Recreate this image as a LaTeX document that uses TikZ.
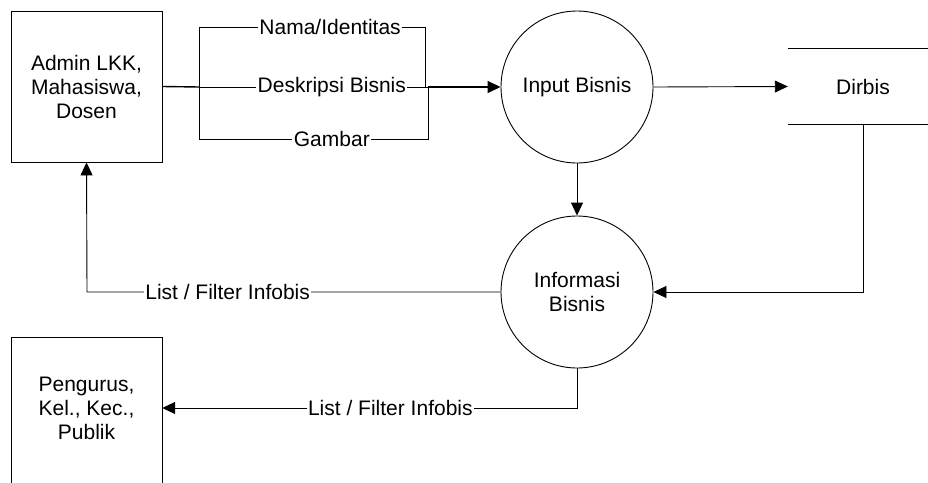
\documentclass[tikz,border=0pt]{standalone}
\usepackage{fontspec}
\setmainfont{Liberation Sans}
\usetikzlibrary{arrows.meta}
\tikzset{
  every node/.style={font=\fontsize{21}{24}\selectfont, align=center},
  flow/.style={draw=black, line width=0.9pt},
  arr/.style={flow, -{Triangle[length=13pt,width=12pt]}},
  lbl/.style={fill=white, inner sep=1.5pt},
  entity/.style={draw=black, line width=0.9pt, minimum width=151pt, minimum height=151pt, inner sep=0pt},
  proc/.style={circle, draw=black, line width=0.9pt, minimum size=152pt, inner sep=0pt},
}
\begin{document}
\begin{tikzpicture}[x=1pt,y=-1pt]
\useasboundingbox (0,0) rectangle (928,482);
% nodes
\node[entity] (admin) at (86.5,86.5) {Admin LKK,\\Mahasiswa,\\Dosen};
\node[proc] (input) at (577,87) {Input Bisnis};
\node[proc] (info) at (577,292) {Informasi\\Bisnis};
\node[minimum width=140pt, minimum height=75pt, inner sep=0pt] (dirbis) at (858,86.5) {\hspace*{10pt}Dirbis};
\node[minimum width=151pt, inner sep=0pt] (pub) at (86.5,408) {Pengurus,\\Kel., Kec.,\\Publik};
% data store lines
\draw[flow] (dirbis.north west) -- (dirbis.north east);
\draw[flow] (dirbis.south west) -- (dirbis.south east);
% external entity open at bottom
\coordinate (pbl) at (11,495);
\coordinate (pbr) at (162,495);
\draw[flow] (pbl) -- (11,337) -- (162,337) -- (pbr);
% bundle coordinates
\coordinate (s) at (199,87);
\coordinate (t) at (428,87);
\draw[flow, line width=1.4pt] (admin.east) -- (s);
\draw[flow] (199,27) -- (199,139);
\draw[flow] (199,27) -- node[lbl, pos=0.58] (l1) {Nama/Identitas} (425,27) -- (425,87);
\draw[flow] (s) -- node[lbl, pos=0.58] (l2) {Deskripsi Bisnis} (t);
\draw[flow] (199,139) -- node[lbl, pos=0.58] (l3) {Gambar} (428,139) -- (t);
\draw[arr, line width=1.4pt] (t) -- (input.west);
% other flows
\draw[arr] (input.east) -- (dirbis.west);
\draw[arr] (input.south) -- (info.north);
\draw[arr] (dirbis.south) ++(5,0) coordinate (ds) -- (ds |- info.east) -- (info.east);
\coordinate (c1) at (87,292);
\draw[arr] (info.west) -- node[lbl, pos=0.66] (l4) {List / Filter Infobis} (c1) -- (admin.south);
\coordinate (c2) at (577,408);
\draw[arr] (info.south) -- (c2) -- node[lbl, pos=0.45] (l5) {List / Filter Infobis} (pub.east);
\end{tikzpicture}
\end{document}
